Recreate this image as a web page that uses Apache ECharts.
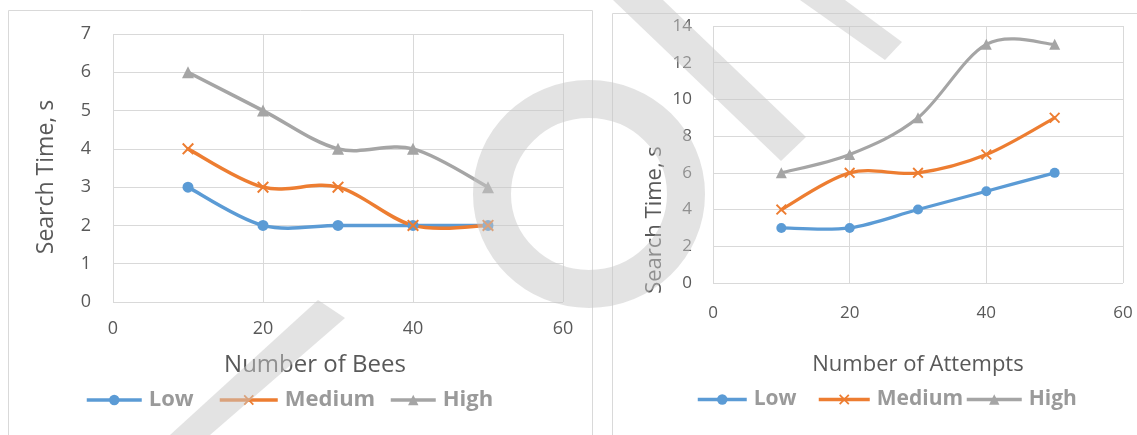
<!DOCTYPE html>
<html><head><meta charset="utf-8">
<script src="https://cdn.jsdelivr.net/npm/echarts@6/dist/echarts.min.js"></script>
<style>html,body{margin:0;padding:0;background:#fff}#c{width:1137px;height:435px}</style>
</head><body><div id="c"></div>
<script>
const xValues = [10, 20, 30, 40, 50];
const seriesNames = ['Low', 'Medium', 'High'];
const beesLow = [3, 2, 2, 2, 2];
const beesMedium = [4, 3, 3, 2, 2];
const beesHigh = [6, 5, 4, 4, 3];
const attemptsLow = [3, 3, 4, 5, 6];
const attemptsMedium = [4, 6, 6, 7, 9];
const attemptsHigh = [6, 7, 9, 13, 13];
const leftXTitle = 'Number of Bees';
const rightXTitle = 'Number of Attempts';
const yTitle = 'Search Time, s';

const colors = ['#5B9BD5', '#ED7D31', '#A5A5A5'];
const xMark = 'path://M0,1.2L1.2,0L5,3.8L8.8,0L10,1.2L6.2,5L10,8.8L8.8,10L5,6.2L1.2,10L0,8.8L3.8,5Z';
const symbols = ['circle', xMark, 'triangle'];
const font = '"Open Sans", Lato, sans-serif';
const wm = 'rgba(200,200,200,0.5)';

function pts(arr) { return arr.map((v, i) => [xValues[i], v]); }

// marker-only line series (curve drawn by custom series with Excel-like smoothing)
function markers(name, idx, data, ax, size) {
  return {
    name: name, type: 'line', xAxisIndex: ax, yAxisIndex: ax,
    data: pts(data), symbol: symbols[idx], symbolSize: size[idx], showSymbol: true,
    itemStyle: { color: colors[idx] }, lineStyle: { width: 3.5, color: colors[idx], opacity: 0 },
    z: 6 + idx
  };
}
function curve(name, idx, data, ax, width) {
  const d = pts(data);
  return {
    name: name, type: 'custom', xAxisIndex: ax, yAxisIndex: ax, data: d,
    encode: { x: 0, y: 1 }, z: 3 + idx, silent: true,
    renderItem: function (params, api) {
      const i = params.dataIndex;
      if (i >= d.length - 1) return null;
      const p0 = api.coord(d[Math.max(i - 1, 0)]);
      const p1 = api.coord(d[i]);
      const p2 = api.coord(d[i + 1]);
      const p3 = api.coord(d[Math.min(i + 2, d.length - 1)]);
      return {
        type: 'bezierCurve',
        shape: {
          x1: p1[0], y1: p1[1], x2: p2[0], y2: p2[1],
          cpx1: p1[0] + (p2[0] - p0[0]) / 6, cpy1: p1[1] + (p2[1] - p0[1]) / 6,
          cpx2: p2[0] - (p3[0] - p1[0]) / 6, cpy2: p2[1] - (p3[1] - p1[1]) / 6
        },
        style: { stroke: colors[idx], lineWidth: width, fill: null, lineCap: 'round' }
      };
    }
  };
}
const axisCommon = {
  axisLine: { show: false }, axisTick: { show: false },
  splitLine: { show: true, lineStyle: { color: '#D9D9D9', width: 1 } }
};
function legendItem(name, left, top, w, fs) {
  return { data: [name], left: left, top: top, itemWidth: w, itemHeight: 13, padding: 0,
    lineStyle: { width: 3.5, opacity: 1 },
    textStyle: { color: '#9A9A9A', fontSize: fs, fontWeight: 'bold', fontFamily: font, padding: [0, 0, 0, 2] } };
}
const sizeL = [11, 12, 12];
const sizeR = [10, 11, 11];
const chart = echarts.init(document.getElementById('c'));
chart.setOption({
  animation: false,
  color: colors,
  graphic: [
    { type: 'rect', z: -1, shape: { x: 8.5, y: 10.5, width: 584, height: 440 }, style: { fill: 'none', stroke: '#D9D9D9', lineWidth: 1 } },
    { type: 'rect', z: -1, shape: { x: 612.5, y: 13.5, width: 540, height: 440 }, style: { fill: 'none', stroke: '#D9D9D9', lineWidth: 1 } },
    { type: 'text', x: 46, y: 177, rotation: Math.PI / 2,
      style: { text: yTitle, fill: '#595959', fontSize: 23, fontFamily: font, align: 'center', verticalAlign: 'middle' } },
    { type: 'text', x: 655, y: 220, rotation: Math.PI / 2,
      style: { text: yTitle, fill: '#595959', fontSize: 22, fontFamily: font, align: 'center', verticalAlign: 'middle' } },
    // faint watermark overlay
    { type: 'ellipse', z: 100, silent: true, shape: { cx: 589, cy: 194, rx: 97, ry: 95 },
      style: { fill: 'none', stroke: wm, lineWidth: 38 } },
    { type: 'polygon', z: 100, silent: true, shape: { points: [[613, 0], [663, 0], [806, 137], [781, 161]] },
      style: { fill: wm } },
    { type: 'polygon', z: 100, silent: true, shape: { points: [[800, 0], [845, 0], [902, 42], [885, 60]] },
      style: { fill: wm } },
    { type: 'polygon', z: 100, silent: true, shape: { points: [[318, 300], [345, 318], [210, 435], [170, 435]] },
      style: { fill: wm } }
  ],
  grid: [
    { left: 113, right: 574, top: 34, bottom: 133 },
    { left: 713, right: 14, top: 26, bottom: 152 }
  ],
  xAxis: [
    Object.assign({}, axisCommon, { type: 'value', gridIndex: 0, min: 0, max: 60, interval: 20,
      name: leftXTitle, nameLocation: 'middle', nameGap: 51,
      nameTextStyle: { color: '#595959', fontFamily: font, fontSize: 24, padding: [0, 46, 0, 0] },
      axisLabel: { color: '#595959', fontSize: 18, fontFamily: font, margin: 18 } }),
    Object.assign({}, axisCommon, { type: 'value', gridIndex: 1, min: 0, max: 60, interval: 20,
      name: rightXTitle, nameLocation: 'middle', nameGap: 71,
      nameTextStyle: { color: '#595959', fontFamily: font, fontSize: 22 },
      axisLabel: { color: '#595959', fontSize: 17, fontFamily: font, margin: 22 } })
  ],
  yAxis: [
    Object.assign({}, axisCommon, { type: 'value', gridIndex: 0, min: 0, max: 7, interval: 1,
      axisLabel: { color: '#595959', fontSize: 18, fontFamily: font, margin: 22 } }),
    Object.assign({}, axisCommon, { type: 'value', gridIndex: 1, min: 0, max: 14, interval: 2,
      axisLabel: { color: '#595959', fontSize: 17, fontFamily: font, margin: 21 } })
  ],
  legend: [
    legendItem('Low', 85, 389, 55, 22),
    legendItem('Medium', 218, 389, 58, 22),
    legendItem('High', 389, 389, 45, 22),
    legendItem('Low', 696, 389, 49, 21),
    legendItem('Medium', 817, 389, 51, 21),
    legendItem('High', 965, 389, 55, 21)
  ],
  series: [
    markers('Low', 0, beesLow, 0, sizeL), markers('Medium', 1, beesMedium, 0, sizeL), markers('High', 2, beesHigh, 0, sizeL),
    markers('Low', 0, attemptsLow, 1, sizeR), markers('Medium', 1, attemptsMedium, 1, sizeR), markers('High', 2, attemptsHigh, 1, sizeR),
    curve('Low', 0, beesLow, 0, 3.5), curve('Medium', 1, beesMedium, 0, 3.5), curve('High', 2, beesHigh, 0, 3.5),
    curve('Low', 0, attemptsLow, 1, 3.2), curve('Medium', 1, attemptsMedium, 1, 3.2), curve('High', 2, attemptsHigh, 1, 3.2)
  ]
});
</script></body></html>
